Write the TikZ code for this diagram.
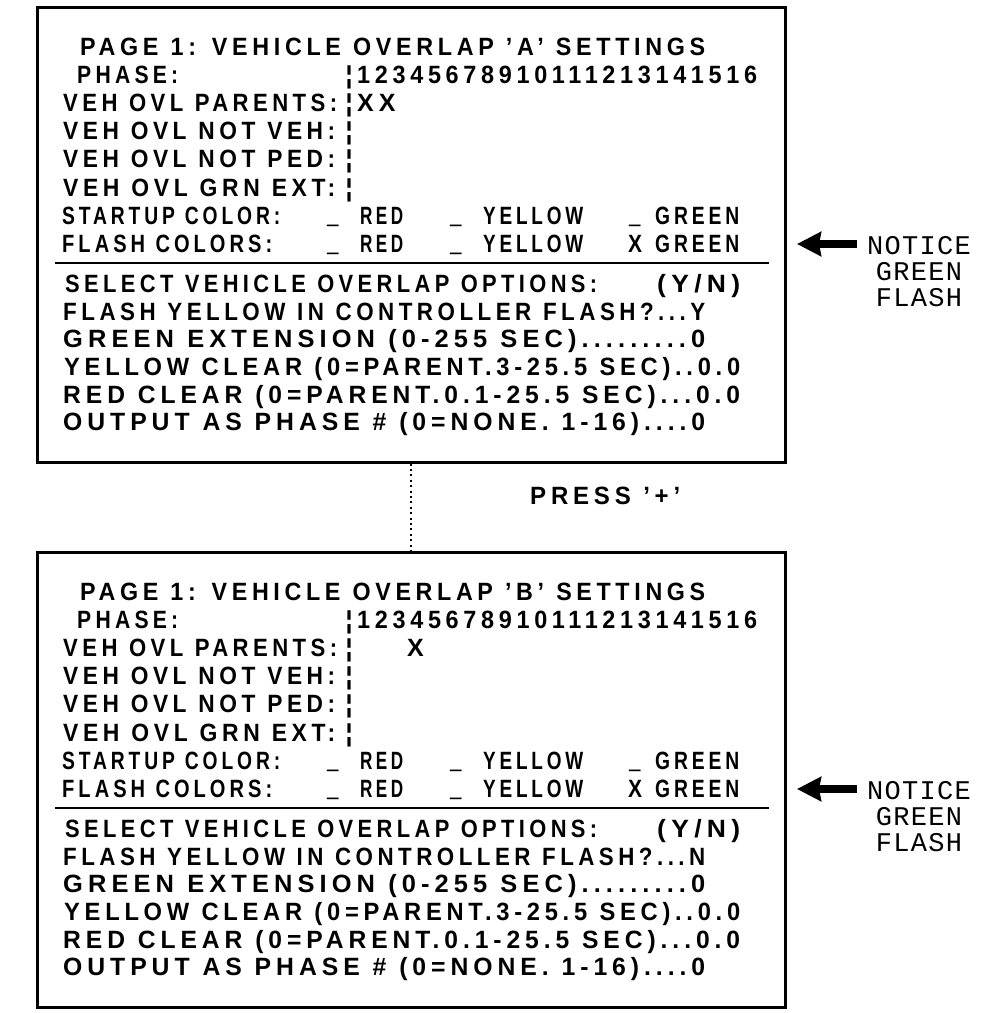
\documentclass[tikz,border=0pt]{standalone}
\usepackage{fontspec}
\usepackage{graphicx}
\setmainfont{Liberation Sans}
\newfontfamily\dispfont{Liberation Sans}[LetterSpace=20]
\newfontfamily\notefont{Liberation Mono}[LetterSpace=5]
\usetikzlibrary{arrows.meta}
\newcommand{\fitw}[2]{\resizebox{#1pt}{\height}{#2}}
\newcommand{\uscore}{\raisebox{3pt}[4pt][0pt]{\scalebox{0.82}[1.7]{\_}}}
\newcommand{\dispsetup}{\dispfont\bfseries\fontsize{25pt}{30pt}\selectfont\spaceskip 13pt\relax}
\tikzset{
  panelbox/.style={draw, line width=3pt, minimum width=748pt, minimum height=455pt, inner sep=0pt},
  txt/.style={anchor=base west, inner sep=0pt, font=\dispsetup},
  bar/.style={anchor=base, inner sep=0pt, font=\bfseries\fontsize{25pt}{30pt}\selectfont},
  sepline/.style={line width=2pt},
  notearrow/.style={line width=7.5pt, -{Stealth[length=24pt,width=24pt,inset=2pt]}},
  note/.style={align=center, inner sep=0pt, font=\notefont\fontsize{27pt}{26pt}\selectfont},
  dotline/.style={line width=2pt, dash pattern=on 2pt off 3.4pt}
}
% #1 prefix, #2 y shift, #3 letter, #4 parents x, #5 parents text, #6 flash-yellow answer
\newcommand{\ovlpanel}[6]{%
\begin{scope}[shift={(0,#2)}]
  \node[panelbox] (#1box) at (411,234.5) {};
  \node[txt] (#1t)  at (80,55)  {\fitw{625}{PAGE 1: VEHICLE OVERLAP ’#3’ SETTINGS}};
  \node[txt] (#1ph) at (77,83)  {\fitw{101}{PHASE:}};
  \node[txt] (#1dg) at (357,83) {\fitw{400}{12345678910111213141516}};
  \node[bar] (#1b1) at (349,83)  {¦};
  \node[bar] (#1b2) at (349,111) {¦};
  \node[bar] (#1b3) at (349,139) {¦};
  \node[bar] (#1b4) at (349,167) {¦};
  \node[bar] (#1b5) at (349,196) {¦};
  \node[txt] (#1pa) at (63,111) {\fitw{274}{VEH OVL PARENTS:}};
  \node[txt] (#1px) at (#4,111) {#5};
  \node[txt] (#1nv) at (63,139) {\fitw{272}{VEH OVL NOT VEH:}};
  \node[txt] (#1np) at (63,167) {\fitw{272}{VEH OVL NOT PED:}};
  \node[txt] (#1ge) at (63,196) {\fitw{272}{VEH OVL GRN EXT:}};
  \node[txt] (#1su) at (62,224) {\fitw{218}{STARTUP COLOR:}};
  \node[txt] (#1fc) at (62,252) {\fitw{210}{FLASH COLORS:}};
  \node[txt] (#1su1) at (327,224) {\uscore};
  \node[txt] (#1sr)  at (360,224) {\fitw{43}{RED}};
  \node[txt] (#1su2) at (450,224) {\uscore};
  \node[txt] (#1sy)  at (483,224) {\fitw{100}{YELLOW}};
  \node[txt] (#1su3) at (629,224) {\uscore};
  \node[txt] (#1sg)  at (655,224) {\fitw{84}{GREEN}};
  \node[txt] (#1fu1) at (327,252) {\uscore};
  \node[txt] (#1fr)  at (360,252) {\fitw{43}{RED}};
  \node[txt] (#1fu2) at (450,252) {\uscore};
  \node[txt] (#1fy)  at (483,252) {\fitw{100}{YELLOW}};
  \node[txt] (#1fx)  at (628,252) {\fitw{14}{X}};
  \node[txt] (#1fg)  at (655,252) {\fitw{84}{GREEN}};
  \draw[sepline] (55,263) -- (769,263);
  \node[txt] (#1so) at (65,292) {\fitw{532}{SELECT VEHICLE OVERLAP OPTIONS:}};
  \node[txt] (#1yn) at (657,292) {\fitw{83}{(Y/N)}};
  \node[txt] (#1fl) at (63,320) {\fitw{642}{FLASH YELLOW IN CONTROLLER FLASH?...#6}};
  \node[txt] (#1gx) at (63,347) {\fitw{642}{GREEN EXTENSION (0-255 SEC).........0}};
  \node[txt] (#1yc) at (64,375) {\fitw{676}{YELLOW CLEAR (0=PARENT.3-25.5 SEC)..0.0}};
  \node[txt] (#1rc) at (63,403) {\fitw{677}{RED CLEAR (0=PARENT.0.1-25.5 SEC)...0.0}};
  \node[txt] (#1op) at (63,430) {\fitw{642}{OUTPUT AS PHASE \# (0=NONE. 1-16)....0}};
  \coordinate (#1tip) at (797,244);
  \coordinate (#1tail) at (857,244);
  \draw[notearrow] (#1tail) -- (#1tip);
  \node[note] (#1note) at (919,272) {NOTICE\\GREEN\\FLASH};
\end{scope}}
\begin{document}
\begin{tikzpicture}[x=1pt,y=-1pt]
  \useasboundingbox (0,0) rectangle (1007,1013);
  \ovlpanel{A}{0}{A}{357}{XX}{Y}
  \ovlpanel{B}{545}{B}{407}{X}{N}
  \draw[dotline] (Abox.south) -- (Bbox.north);
  \node[txt] (press) at (530,504) {\fitw{150}{PRESS ’+’}};
\end{tikzpicture}
\end{document}
